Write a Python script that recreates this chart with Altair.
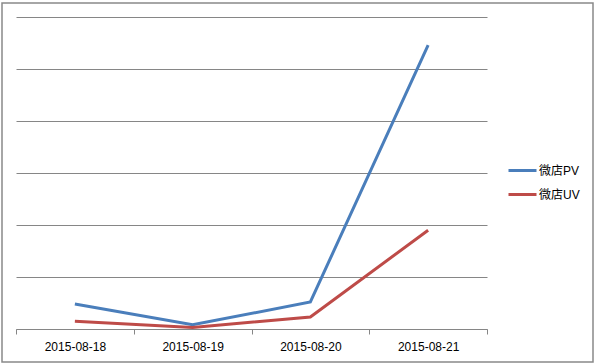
import altair as alt
import pandas as pd

dates = ["2015-08-18", "2015-08-19", "2015-08-20", "2015-08-21"]
pv = [48, 8, 52, 546]
uv = [15, 3, 23, 190]
series = ["微店PV", "微店UV"]
colors = ["#4a7ebb", "#be4b48"]

rows = []
for d, v in zip(dates, pv):
    rows.append({"date": d, "series": series[0], "value": v})
for d, v in zip(dates, uv):
    rows.append({"date": d, "series": series[1], "value": v})
df = pd.DataFrame(rows)

FONT = "Liberation Sans, Noto Sans CJK SC"

lines = alt.Chart(df).mark_line(strokeWidth=3).encode(
    x=alt.X("date:N", bandPosition=0.5,
            scale=alt.Scale(type="band", paddingInner=0, paddingOuter=0),
            axis=alt.Axis(title=None, labelAngle=0, tickBand="extent", grid=False,
                          domainColor="#868686", tickColor="#868686", tickSize=5,
                          labelFont=FONT, labelFontSize=12, labelColor="#000000",
                          labelPadding=7)),
    y=alt.Y("value:Q", scale=alt.Scale(domain=[0, 600], nice=False),
            axis=alt.Axis(title=None, labels=False, ticks=False, domain=False,
                          grid=True, gridColor="#868686", values=[0, 100, 200, 300, 400, 500, 600])),
    color=alt.Color("series:N", scale=alt.Scale(domain=series, range=colors),
                    legend=alt.Legend(title=None, orient="none", legendX=491, legendY=138,
                                      symbolType="stroke", symbolSize=784, symbolStrokeWidth=3,
                                      labelFont=FONT, labelFontSize=12, labelColor="#000000",
                                      labelOffset=1, rowPadding=2, padding=0)),
)

border = alt.Chart(pd.DataFrame({"a": [0]})).mark_rect(
    filled=False, stroke="#898989", strokeWidth=1.5
).encode(x=alt.value(-14), x2=alt.value(577), y=alt.value(-14), y2=alt.value(345))

chart = alt.layer(lines, border).properties(
    width=471, height=312,
    autosize=alt.AutoSizeParams(type="none"),
    padding={"left": 16, "top": 17, "right": 107, "bottom": 35},
    background="white",
).configure_view(stroke=None)

chart.save("out.html", embed_options={"renderer": "svg", "actions": False})
